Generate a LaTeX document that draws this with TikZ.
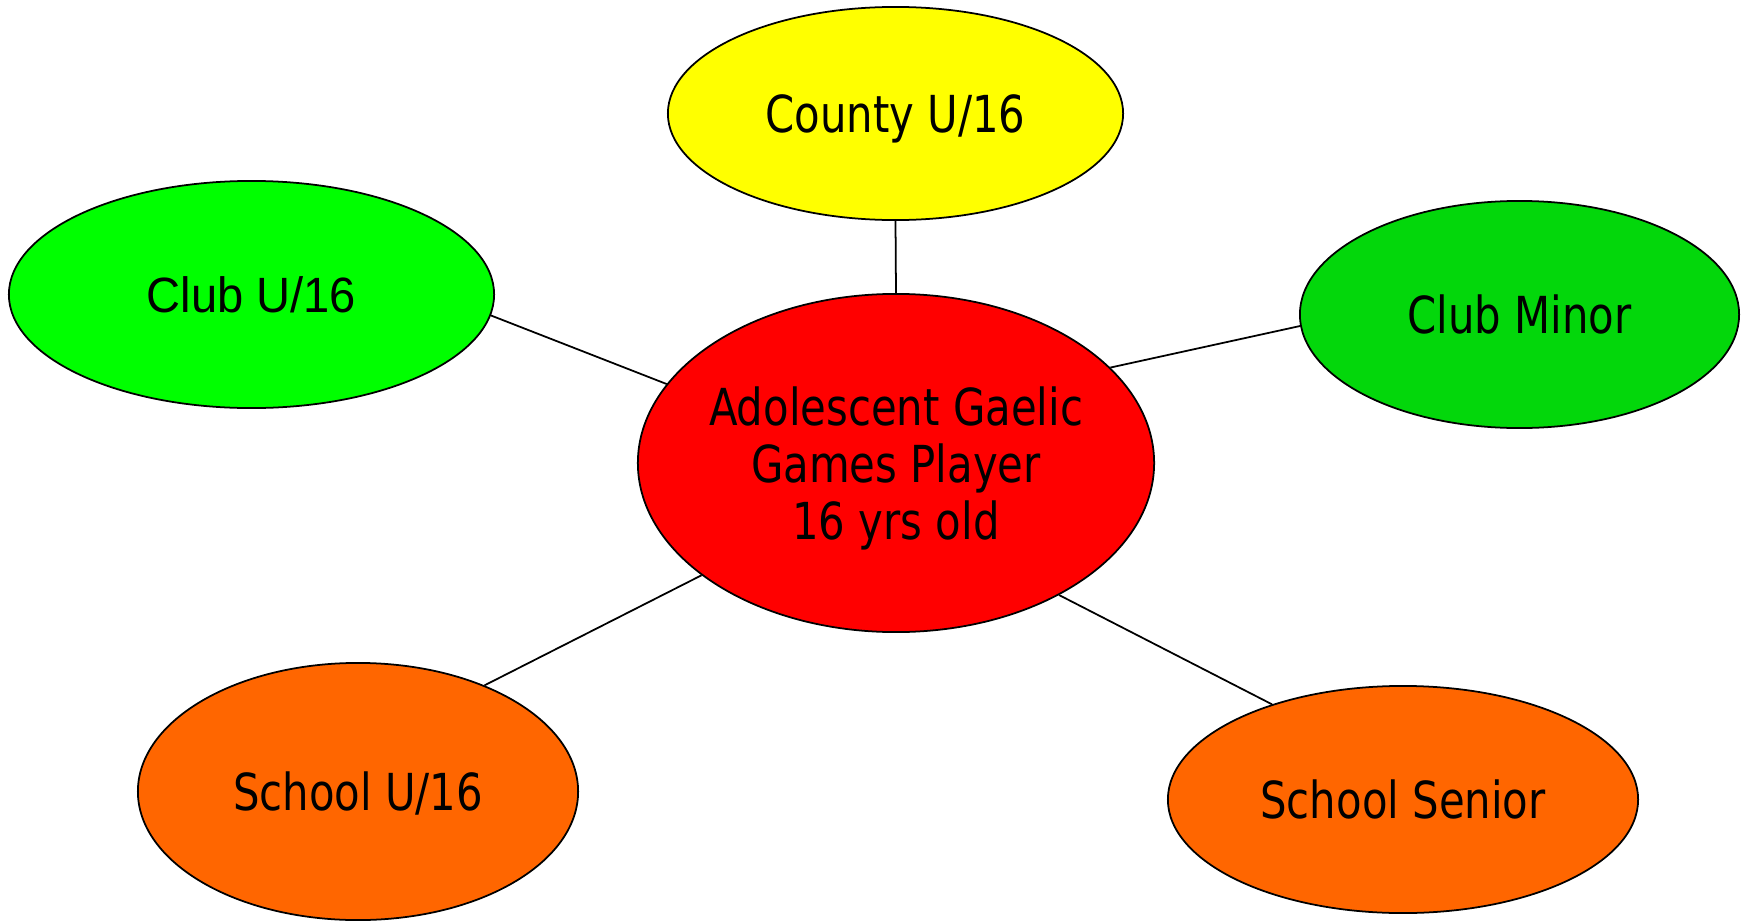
\documentclass[tikz,border=0pt]{standalone}
\usepackage{fontspec}
\setmainfont{DejaVu Sans}[FakeStretch=0.82]
\newfontfamily\clubfont{Liberation Sans}[FakeStretch=0.95]
\usetikzlibrary{shapes.geometric}

\definecolor{countyyellow}{HTML}{FFFF00}
\definecolor{clubgreen}{HTML}{00FF00}
\definecolor{minorgreen}{HTML}{03D70B}
\definecolor{playerred}{HTML}{FF0000}
\definecolor{schoolorange}{HTML}{FF6600}

\begin{document}
\begin{tikzpicture}[x=0.01cm, y=-0.01cm]
\tikzset{
   team/.style = {ellipse, draw, line width = 0.5pt, inner xsep = -1cm, inner ysep = 0pt, text depth = -0.04cm, align = center, font = \fontsize{14.5}{16.2}\selectfont},
   player/.style = {team, fill = playerred, minimum width = 5.16cm, minimum height = 3.38cm},
   link/.style = {draw, line width = 0.5pt}
}
  \useasboundingbox (0,0) rectangle (1748,921);

  \node [player] (player) at (896,463) {Adolescent Gaelic\\ Games Player\\ 16 yrs old};

  \node [team, fill = countyyellow, minimum width = 4.55cm, minimum height = 2.13cm] (county) at (895.5,113.5) {County U/16};
  \node [team, fill = clubgreen, minimum width = 4.85cm, minimum height = 2.27cm, font = \clubfont\fontsize{14.1}{16}\selectfont] (club16) at (251.5,294.5) {Club U/16};
  \node [team, fill = minorgreen, minimum width = 4.39cm, minimum height = 2.27cm] (minor) at (1519.5,314.5) {Club Minor};
  \node [team, fill = schoolorange, minimum width = 4.40cm, minimum height = 2.57cm] (school16) at (358,791.5) {School U/16};
  \node [team, fill = schoolorange, minimum width = 4.70cm, minimum height = 2.27cm] (senior) at (1403,799.5) {School Senior};

  \path [link] (county.270) -- (player.90);
  \path [link] (club16.355) -- (player.161);
  \path [link] (minor.183) -- (player.24);
  \path [link] (school16.40) -- (player.210);
  \path [link] (senior.144) -- (player.321);

\end{tikzpicture}
\end{document}
